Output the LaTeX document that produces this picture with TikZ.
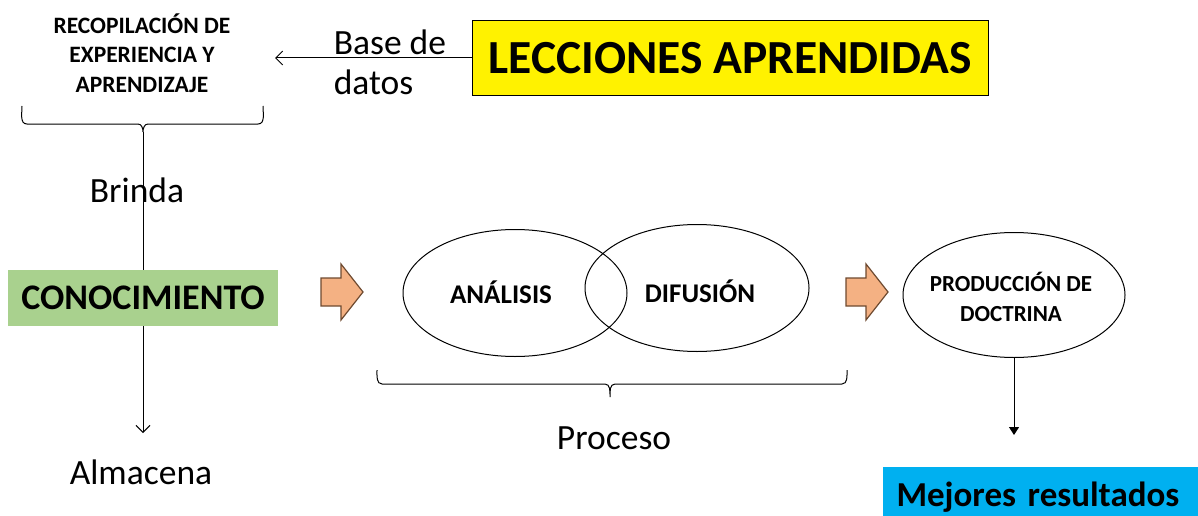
\documentclass[tikz,border=0pt]{standalone}
\usepackage{fontspec}
\setmainfont{Carlito}
\usetikzlibrary{shapes.geometric}
\usetikzlibrary{positioning}
\usetikzlibrary{arrows.meta}
\definecolor{verdebox}{HTML}{A9D18E}
\definecolor{azulbox}{HTML}{00B0F0}
\definecolor{naranja}{HTML}{F4B183}
\definecolor{naranjaborde}{HTML}{6E4A30}
\begin{document}
\begin{tikzpicture}[x=1pt,y=-1pt,line width=1pt,
        texto/.style={font=\fontsize{35.5}{40}\selectfont},
        flecha/.style={draw=naranjaborde,fill=naranja,line width=1.2pt}]

            %\draw [help lines] (0,0) grid (1198,516);
            \useasboundingbox (0,0) rectangle (1198,516);

            % lineas detras de los textos
            \coordinate (llave) at (143,132);
            \coordinate (almacfin) at (143,433);
            \draw[arrows = -{Straight Barb[length=7pt,width=14pt]}] (llave) -- (almacfin);

            \path   (142,53) node (recop) [align=center,font=\bfseries\fontsize{23.5}{29.5}\selectfont] {RECOPILACIÓN DE\\EXPERIENCIA Y\\APRENDIZAJE}
                    (730,58) node (lecc) [draw,fill=yellow,minimum width=516pt,minimum height=75pt,font=\bfseries\fontsize{47.5}{50}\selectfont] {LECCIONES APRENDIDAS}
                    (330,62) node (base) [anchor=west,align=left,texto] {Base de\\datos}
                    (137,190) node (brinda) [texto] {Brinda}
                    (143,298) node (conoc) [fill=verdebox,minimum width=270pt,minimum height=56pt,font=\bfseries\fontsize{36}{40}\selectfont] {CONOCIMIENTO}
                    (141,472) node (almac) [texto] {Almacena}
                    (515,293) node (anal) [ellipse,draw,minimum width=224pt,minimum height=127pt] {}
                    (697,288) node (difu) [ellipse,draw,minimum width=224pt,minimum height=127pt] {}
                    (501,292) node (analtxt) [font=\bfseries\fontsize{27}{30}\selectfont] {ANÁLISIS}
                    (700,291) node (difutxt) [font=\bfseries\fontsize{27}{30}\selectfont] {DIFUSIÓN}
                    (614,438) node (proc) [texto] {Proceso}
                    (1014,295) node (prod) [ellipse,draw,minimum width=222pt,minimum height=125pt] {}
                    (1011,297) node (prodtxt) [align=center,font=\bfseries\fontsize{23}{30}\selectfont] {PRODUCCIÓN DE\\DOCTRINA}
                    (882,497) node (mejor) [anchor=west,fill=azulbox,text width=310pt,inner xsep=14pt,minimum height=60pt,align=left,font=\bfseries\fontsize{35}{40}\selectfont] {Mejores resultados};

            \coordinate (recopfin) at (275,58);
            \coordinate (mejorfin) at (1014,435);
            \draw[arrows = -{Straight Barb[length=7pt,width=14pt]}] (lecc.west) -- (recopfin);
            \draw[arrows = -{Triangle[length=8pt,width=10pt]}] (prod.south) -- (mejorfin);

            % llaves
            \draw (22,106) to[out=-90,in=180] (27,124) -- (138,124) to[out=0,in=90] (143,132)
                  to[out=90,in=180] (148,124) -- (258,124) to[out=0,in=-90] (263,106);
            \draw (377,370) to[out=-90,in=180] (382,384) -- (605,384) to[out=0,in=90] (610,397)
                  to[out=90,in=180] (615,384) -- (842,384) to[out=0,in=-90] (847,370);

            % flechas naranjas
            \foreach \x in {321,846}
                \draw[flecha] (\x,278) -- ++(20,0) -- ++(0,-14) -- ++(22,28) -- ++(-22,28) -- ++(0,-14) -- ++(-20,0) -- cycle;

        \end{tikzpicture}
\end{document}
